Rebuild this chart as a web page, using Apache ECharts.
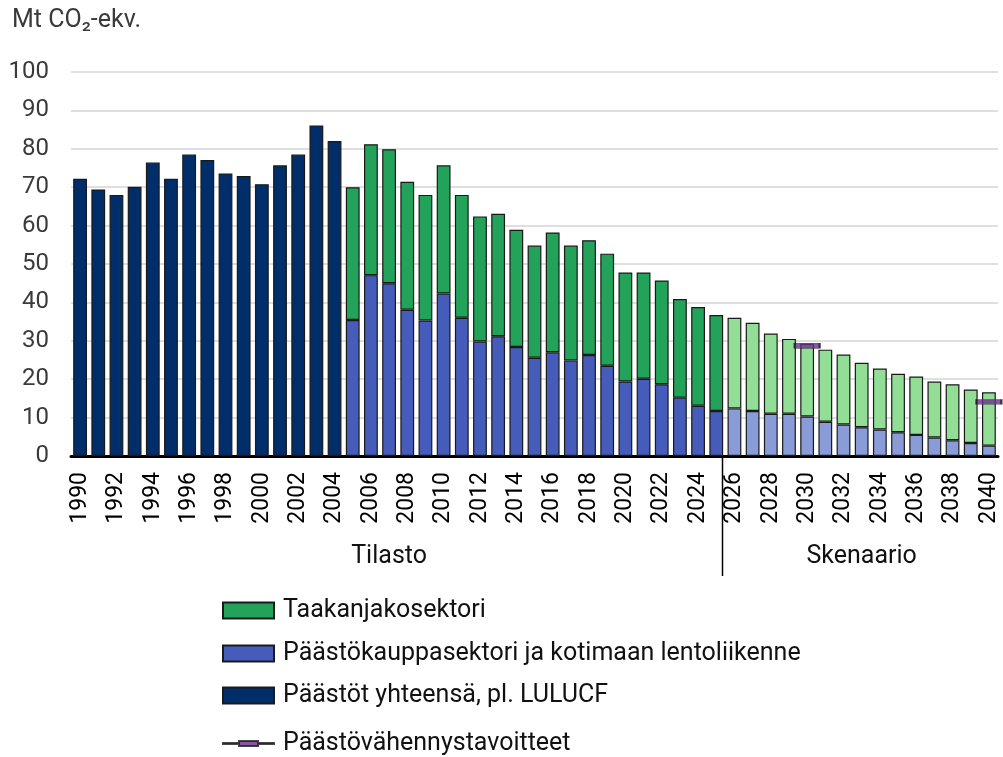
<!DOCTYPE html>
<html>
<head>
<meta charset="utf-8">
<style>
  html, body { margin: 0; padding: 0; background: #fff; }
  #chart { width: 1003px; height: 757px; }
</style>
<script src="https://cdn.jsdelivr.net/npm/echarts@6/dist/echarts.min.js"></script>
</head>
<body>
<div id="chart"></div>
<script>
// years 1990..2040
var years = [];
for (var y = 1990; y <= 2040; y++) years.push(String(y));

// Päästöt yhteensä, pl. LULUCF (1990-2004)
var totalOld = [72.2, 69.4, 68.0, 70.1, 76.4, 72.2, 78.5, 77.1, 73.6, 72.9, 70.8, 75.7, 78.5, 86.1, 82.0];

// Päästökauppasektori ja kotimaan lentoliikenne (2005-2040)
var etsValues = [35.4, 47.1, 45.0, 38.1, 35.3, 42.3, 36.0, 29.8, 31.2, 28.4,
                 25.6, 27.0, 24.9, 26.3, 23.5, 19.4, 20.1, 18.7, 15.2, 13.1,
                 11.7, 12.4, 11.7, 11.0, 11.0, 10.3, 8.9, 8.2, 7.5, 6.9,
                 6.2, 5.5, 4.8, 4.1, 3.4, 2.7];

// Taakanjakosektori (2005-2040)
var esrValues = [34.6, 34.1, 34.9, 33.3, 32.7, 33.4, 32.0, 32.6, 31.9, 30.5,
                 29.2, 31.2, 29.9, 29.9, 29.2, 28.4, 27.7, 27.0, 25.7, 25.7,
                 25.0, 23.6, 23.0, 20.9, 19.5, 18.9, 18.8, 18.2, 16.8, 15.9,
                 15.2, 15.2, 14.6, 14.6, 13.9, 13.9];

// Päästövähennystavoitteet
var targetYears = ['2030', '2040'];
var targetValues = [28.7, 14.1];

var yTicks = [0, 10, 20, 30, 40, 50, 60, 70, 80, 90, 100];

var navy = '#002e6b', green = '#23a25a', blue = '#455cba';
var lightGreen = '#93de97', lightBlue = '#8a9cd8', purple = '#6b2c91';
var font = 'Roboto';

function build(values, startYear, color, lightColor) {
    return years.map(function (yr) {
        var i = Number(yr) - startYear;
        if (i < 0 || i >= values.length) return null;
        if (Number(yr) >= 2026) return { value: values[i], itemStyle: { color: lightColor } };
        return values[i];
    });
}

var navyData = build(totalOld, 1990, navy, navy);
var etsData = build(etsValues, 2005, blue, lightBlue);
var esrData = build(esrValues, 2005, green, lightGreen);
var targetData = years.map(function (yr) {
    var k = targetYears.indexOf(yr);
    return k < 0 ? null : targetValues[k];
});

var chart = echarts.init(document.getElementById('chart'));
var barBorder = { borderColor: '#1a1a1a', borderWidth: 1.2 };

function legendAt(top, item) {
    return {
        orient: 'vertical',
        left: 222,
        top: top,
        padding: 0,
        itemWidth: 51,
        itemHeight: 16,
        icon: 'rect',
        textStyle: { fontFamily: font, fontSize: 25, color: '#111', lineHeight: 25, padding: [0, 0, 0, 4] },
        data: [item]
    };
}

var option = {
    animation: false,
    grid: { left: 71, right: 5, top: 72, bottom: 301 },
    legend: [
        legendAt(598, 'Taakanjakosektori'),
        legendAt(641, 'Päästökauppasektori ja kotimaan lentoliikenne'),
        legendAt(683, 'Päästöt yhteensä, pl. LULUCF'),
        legendAt(731, {
            name: 'Päästövähennystavoitteet',
            icon: 'path://M0,7.5 L16,7.5 L16,5.5 L35,5.5 L35,7.5 L51,7.5 L51,8.5 L35,8.5 L35,10.5 L16,10.5 L16,8.5 L0,8.5 Z'
        })
    ],
    xAxis: {
        type: 'category',
        data: years,
        axisLine: { lineStyle: { color: '#000', width: 3 } },
        axisTick: { show: false },
        axisLabel: {
            interval: 1,
            rotate: 90,
            margin: 16,
            fontFamily: font,
            fontSize: 23,
            color: '#000'
        }
    },
    yAxis: {
        type: 'value',
        min: yTicks[0],
        max: yTicks[yTicks.length - 1],
        interval: 10,
        axisLine: { show: false },
        axisTick: { show: false },
        splitLine: { lineStyle: { color: '#d4d4d4', width: 1.5 } },
        axisLabel: { margin: 22, fontFamily: font, fontSize: 24, color: '#3a3a3a' }
    },
    series: [
        {
            name: 'Päästöt yhteensä, pl. LULUCF',
            type: 'bar',
            stack: 'a',
            barWidth: '76%',
            itemStyle: Object.assign({ color: navy }, barBorder),
            data: navyData
        },
        {
            name: 'Päästökauppasektori ja kotimaan lentoliikenne',
            type: 'bar',
            stack: 'a',
            itemStyle: Object.assign({ color: blue }, barBorder),
            data: etsData
        },
        {
            name: 'Taakanjakosektori',
            type: 'bar',
            stack: 'a',
            itemStyle: Object.assign({ color: green }, barBorder),
            data: esrData
        },
        {
            name: 'Päästövähennystavoitteet',
            type: 'scatter',
            symbol: 'rect',
            symbolSize: [25, 5],
            itemStyle: { color: purple, borderColor: '#1a1a1a', borderWidth: 1 },
            z: 5,
            data: targetData
        }
    ]
};
chart.setOption(option);

// separator between statistics and scenario + group labels
var x25 = chart.convertToPixel({ xAxisIndex: 0 }, '2025');
var x26 = chart.convertToPixel({ xAxisIndex: 0 }, '2026');
var x1990 = chart.convertToPixel({ xAxisIndex: 0 }, '1990');
var x2024 = chart.convertToPixel({ xAxisIndex: 0 }, '2024');
var x2040 = chart.convertToPixel({ xAxisIndex: 0 }, '2040');
var y0 = chart.convertToPixel({ yAxisIndex: 0 }, 0);
var sepX = Math.round(x25 + 0.3 * (x26 - x25)) + 0.5;

chart.setOption({
    graphic: [
        {
            type: 'line',
            shape: { x1: sepX, y1: y0, x2: sepX, y2: 576 },
            style: { stroke: '#000', lineWidth: 1.5 }
        },
        {
            type: 'text',
            x: (x1990 + x2024) / 2,
            y: 557,
            style: { text: 'Tilasto', fontFamily: font, fontSize: 25, fill: '#111', align: 'center', verticalAlign: 'middle' }
        },
        {
            type: 'text',
            x: (x26 + x2040) / 2,
            y: 557,
            style: { text: 'Skenaario', fontFamily: font, fontSize: 25, fill: '#111', align: 'center', verticalAlign: 'middle' }
        },
        {
            type: 'text',
            left: 12,
            top: 8,
            style: { text: 'Mt CO₂-ekv.', fontFamily: font, fontSize: 25, fill: '#3a3a3a' }
        }
    ]
});

window.onresize = chart.resize;
</script>
</body>
</html>
